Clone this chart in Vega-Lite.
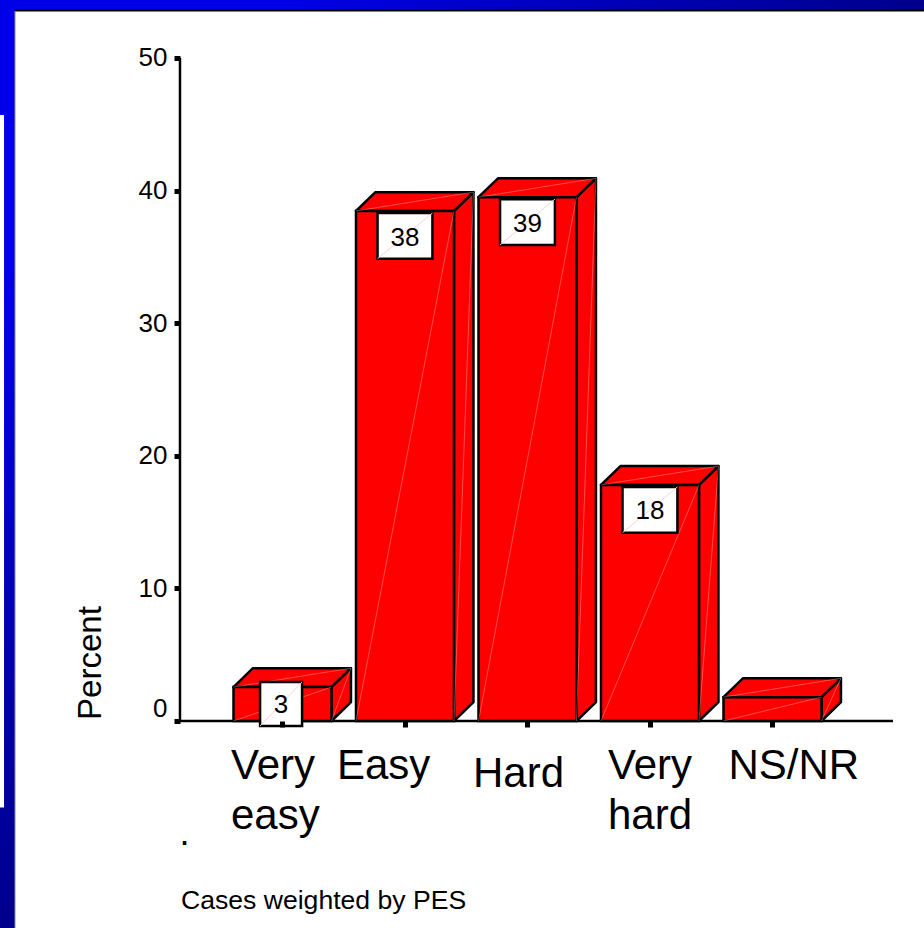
{
"width":924,"height":928,"padding":0,"autosize":"none","background":"white",
"config":{"view":{"stroke":null},"font":"Liberation Sans"},
"datasets":{
"bars":[
{"category":"Very easy","percent":2.56,"label":"3"},
{"category":"Easy","percent":38.46,"label":"38"},
{"category":"Hard","percent":39.5,"label":"39"},
{"category":"Very hard","percent":17.8,"label":"18"},
{"category":"NS/NR","percent":1.8,"label":null}
],
"one":[{}]
},
"resolve":{"scale":{"x":"independent"}},
"layer":[
{"data":{"name":"one"},
 "mark":{"type":"rect","fill":{"gradient":"linear","x1":0,"y1":0,"x2":1,"y2":1,"stops":[{"offset":0,"color":"#0000e8"},{"offset":0.15,"color":"#0000e8"},{"offset":0.5,"color":"#00008c"},{"offset":1,"color":"#00008c"}]}},
 "encoding":{
  "x":{"datum":-2.306,"type":"quantitative","scale":{"domain":[-2.306,5.237],"nice":false,"zero":false},"axis":null},
  "x2":{"datum":5.237},
  "y":{"datum":-15.61,"type":"quantitative","scale":{"domain":[-15.61,54.37],"nice":false,"zero":false},
   "axis":{"title":null,"orient":"left","offset":-180,"domain":false,"grid":false,"values":[0,10,20,30,40,50],"tickSize":6,"tickWidth":5,"tickColor":"black","labelColor":"black","labelFont":"Liberation Sans","labelFontSize":26,"labelPadding":7,"zindex":1,"labelOverlap":false,"labelFlush":false,"labelOffset":{"condition":{"test":"datum.value==0","value":-12},"value":0}}},
  "y2":{"datum":54.37}
 }},
{"data":{"name":"one"},
 "mark":{"type":"rect","fill":"white"},
 "encoding":{
  "x":{"datum":-2.184,"type":"quantitative","scale":{"domain":[-2.306,5.237],"nice":false,"zero":false},"axis":null},
  "x2":{"datum":5.237},
  "y":{"datum":-15.61,"type":"quantitative"},
  "y2":{"datum":53.54}
 }},
{"data":{"name":"one"},
 "mark":{"type":"rect","fill":"white"},
 "encoding":{
  "x":{"datum":-2.306,"type":"quantitative","scale":{"domain":[-2.306,5.237],"nice":false,"zero":false},"axis":null},
  "x2":{"datum":-2.273},
  "y":{"datum":-6.52,"type":"quantitative"},
  "y2":{"datum":45.7}
 }},
{"data":{"name":"one"},
 "mark":{"type":"rule","stroke":"black","strokeWidth":2},
 "encoding":{
  "x":{"datum":-2.184,"type":"quantitative","scale":{"domain":[-2.306,5.237],"nice":false,"zero":false},"axis":null},
  "x2":{"datum":5.237},
  "y":{"datum":53.58,"type":"quantitative"}
 }},
{"data":{"name":"one"},
 "mark":{"type":"rule","stroke":"#777777","strokeWidth":1},
 "encoding":{
  "x":{"datum":-2.184,"type":"quantitative","scale":{"domain":[-2.306,5.237],"nice":false,"zero":false},"axis":null},
  "y":{"datum":-15.61,"type":"quantitative"},
  "y2":{"datum":53.54}
 }},
{"data":{"name":"one"},
 "mark":{"type":"rule","stroke":"black","strokeWidth":2.5},
 "encoding":{
  "x":{"datum":-0.8367,"type":"quantitative","scale":{"domain":[-2.306,5.237],"nice":false,"zero":false},"axis":null},
  "y":{"datum":0,"type":"quantitative"},
  "y2":{"datum":50}
 }},
{"data":{"name":"one"},
 "mark":{"type":"rule","stroke":"black","strokeWidth":2.5},
 "encoding":{
  "x":{"datum":-0.8367,"type":"quantitative","scale":{"domain":[-2.306,5.237],"nice":false,"zero":false},"axis":null},
  "x2":{"datum":4.984},
  "y":{"datum":0,"type":"quantitative"}
 }},
{"data":{"name":"bars"},
 "transform":[
  {"calculate":"indexof(['Very easy','Easy','Hard','Very hard','NS/NR'],datum.category)","as":"i"},
  {"calculate":"[0,1]","as":"k"},{"flatten":["k"]},
  {"calculate":"datum.i+0.4+datum.k*0.159","as":"xs"},
  {"calculate":"datum.percent+datum.k*1.42","as":"ys"},
  {"calculate":"datum.k*1.42","as":"ys2"}
 ],
 "mark":{"type":"area","fill":"#ff0000","stroke":"black","strokeWidth":2.5,"strokeJoin":"round"},
 "encoding":{
  "x":{"field":"xs","type":"quantitative","scale":{"domain":[-2.306,5.237],"nice":false,"zero":false},"axis":null},
  "y":{"field":"ys","type":"quantitative","stack":null},
  "y2":{"field":"ys2"},
  "detail":{"field":"category","type":"nominal"}
 }},
{"data":{"name":"bars"},
 "transform":[
  {"calculate":"indexof(['Very easy','Easy','Hard','Very hard','NS/NR'],datum.category)","as":"i"},
  {"calculate":"[0,1,2,3]","as":"k"},{"flatten":["k"]},
  {"calculate":"datum.i-0.4+[0,0.159,0.8,0.959][datum.k]","as":"xs"},
  {"calculate":"datum.percent+[0,1.42,1.42,1.42][datum.k]","as":"ys"},
  {"calculate":"datum.percent+[0,0,0,1.42][datum.k]","as":"ys2"}
 ],
 "mark":{"type":"area","fill":"#ff0000","stroke":"black","strokeWidth":2.5,"strokeJoin":"round"},
 "encoding":{
  "x":{"field":"xs","type":"quantitative","scale":{"domain":[-2.306,5.237],"nice":false,"zero":false},"axis":null},
  "y":{"field":"ys","type":"quantitative","stack":null},
  "y2":{"field":"ys2"},
  "detail":{"field":"category","type":"nominal"}
 }},
{"data":{"name":"bars"},
 "mark":{"type":"bar","fill":"#ff0000","stroke":"black","strokeWidth":2.5},
 "encoding":{
  "x":{"field":"category","type":"nominal","sort":null,
   "scale":{"domain":["Very easy","Easy","Hard","Very hard","NS/NR"],"range":[221.25,833.75],"paddingInner":0.2,"paddingOuter":0.1},
   "axis":{"title":null,"orient":"bottom","offset":-207,"domain":false,"grid":false,"tickSize":6,"tickWidth":5,"tickColor":"black","labelColor":"black","labelFont":"Liberation Sans","labelFontSize":42,"labelLineHeight":50,"labelAngle":0,"labelAlign":"left","labelBaseline":"top","labelLimit":0,"labelOverlap":false,"labelFlush":false,"zindex":1,
    "labelExpr":"split(datum.label,' ')",
    "labelPadding":{"condition":{"test":"datum.value=='Hard'","value":26},"value":18},
    "labelOffset":{"condition":[{"test":"datum.value=='Very easy'","value":-51.5},{"test":"datum.value=='Easy'","value":-68},{"test":"datum.value=='Hard'","value":-54.5},{"test":"datum.value=='Very hard'","value":-42}],"value":-44}}},
  "y":{"field":"percent","type":"quantitative"}
 }},
{"data":{"name":"bars"},
 "transform":[{"calculate":"indexof(['Very easy','Easy','Hard','Very hard','NS/NR'],datum.category)","as":"i"},
  {"calculate":"[0,1]","as":"k"},{"flatten":["k"]},
  {"calculate":"datum.i-0.4+datum.k*0.8","as":"lx"},
  {"calculate":"datum.k*datum.percent","as":"ly"}],
 "mark":{"type":"line","stroke":"#ffffff","strokeOpacity":0.3,"strokeWidth":1},
 "encoding":{
  "x":{"field":"lx","type":"quantitative","scale":{"domain":[-2.306,5.237],"nice":false,"zero":false},"axis":null},
  "y":{"field":"ly","type":"quantitative"},
  "detail":{"field":"category","type":"nominal"}
 }},
{"data":{"name":"bars"},
 "transform":[{"calculate":"indexof(['Very easy','Easy','Hard','Very hard','NS/NR'],datum.category)","as":"i"},
  {"calculate":"[0,1]","as":"k"},{"flatten":["k"]},
  {"calculate":"datum.i-0.4+datum.k*0.959","as":"lx"},
  {"calculate":"datum.percent+datum.k*1.42","as":"ly"}],
 "mark":{"type":"line","stroke":"#ffffff","strokeOpacity":0.3,"strokeWidth":1},
 "encoding":{
  "x":{"field":"lx","type":"quantitative","scale":{"domain":[-2.306,5.237],"nice":false,"zero":false},"axis":null},
  "y":{"field":"ly","type":"quantitative"},
  "detail":{"field":"category","type":"nominal"}
 }},
{"data":{"name":"bars"},
 "transform":[{"calculate":"indexof(['Very easy','Easy','Hard','Very hard','NS/NR'],datum.category)","as":"i"},
  {"calculate":"[0,1]","as":"k"},{"flatten":["k"]},
  {"calculate":"datum.i+0.4+datum.k*0.159","as":"lx"},
  {"calculate":"datum.k*(datum.percent+1.42)","as":"ly"}],
 "mark":{"type":"line","stroke":"#ffffff","strokeOpacity":0.3,"strokeWidth":1},
 "encoding":{
  "x":{"field":"lx","type":"quantitative","scale":{"domain":[-2.306,5.237],"nice":false,"zero":false},"axis":null},
  "y":{"field":"ly","type":"quantitative"},
  "detail":{"field":"category","type":"nominal"}
 }},
{"data":{"name":"bars"},
 "transform":[{"filter":"datum.label!=null"},
  {"calculate":"indexof(['Very easy','Easy','Hard','Very hard','NS/NR'],datum.category)","as":"i"},
  {"calculate":"datum.percent<5?datum.i-0.183:datum.i-0.224","as":"bx1"},
  {"calculate":"datum.percent<5?datum.i+0.16:datum.i+0.224","as":"bx2"},
  {"calculate":"datum.percent<5?datum.percent+0.38:datum.percent-0.15","as":"by1"},
  {"calculate":"datum.percent<5?-0.38:datum.percent-3.6","as":"by2"}],
 "mark":{"type":"rect","fill":"white","stroke":"black","strokeWidth":2.5},
 "encoding":{
  "x":{"field":"bx1","type":"quantitative","scale":{"domain":[-2.306,5.237],"nice":false,"zero":false},"axis":null},
  "x2":{"field":"bx2"},
  "y":{"field":"by1","type":"quantitative"},
  "y2":{"field":"by2"}
 }},
{"data":{"name":"bars"},
 "transform":[{"filter":"datum.label!=null"},
  {"calculate":"indexof(['Very easy','Easy','Hard','Very hard','NS/NR'],datum.category)","as":"i"},
  {"calculate":"[0,1]","as":"k"},{"flatten":["k"]},
  {"calculate":"datum.percent<5?(datum.i-0.183+datum.k*0.343):(datum.i-0.224+datum.k*0.448)","as":"lx"},
  {"calculate":"datum.percent<5?(-0.38+datum.k*(datum.percent+0.76)):(datum.percent-3.6+datum.k*3.45)","as":"ly"}],
 "mark":{"type":"line","stroke":"#ffd0d0","strokeWidth":1},
 "encoding":{
  "x":{"field":"lx","type":"quantitative","scale":{"domain":[-2.306,5.237],"nice":false,"zero":false},"axis":null},
  "y":{"field":"ly","type":"quantitative"},
  "detail":{"field":"category","type":"nominal"}
 }},
{"data":{"name":"bars"},
 "transform":[{"filter":"datum.label!=null"},
  {"calculate":"indexof(['Very easy','Easy','Hard','Very hard','NS/NR'],datum.category)","as":"i"},
  {"calculate":"datum.percent<5?datum.i-0.012:datum.i","as":"tx"},
  {"calculate":"datum.percent<5?datum.percent/2-0.08:datum.percent-2.0","as":"ty"}],
 "mark":{"type":"text","font":"Liberation Sans","fontSize":26,"fill":"black","align":"center","baseline":"middle"},
 "encoding":{
  "x":{"field":"tx","type":"quantitative","scale":{"domain":[-2.306,5.237],"nice":false,"zero":false},"axis":null},
  "y":{"field":"ty","type":"quantitative"},
  "text":{"field":"label","type":"nominal"}
 }},
{"data":{"name":"one"},
 "mark":{"type":"text","font":"Liberation Sans","fontSize":33,"fill":"black","angle":270,"align":"center","baseline":"middle"},
 "encoding":{
  "x":{"datum":-1.563,"type":"quantitative","scale":{"domain":[-2.306,5.237],"nice":false,"zero":false},"axis":null},
  "y":{"datum":4.37,"type":"quantitative"},
  "text":{"value":"Percent"}
 }},
{"data":{"name":"one"},
 "mark":{"type":"text","font":"Liberation Sans","fontSize":26.6,"fill":"black","align":"left","baseline":"middle"},
 "encoding":{
  "x":{"datum":-0.829,"type":"quantitative","scale":{"domain":[-2.306,5.237],"nice":false,"zero":false},"axis":null},
  "y":{"datum":-13.57,"type":"quantitative"},
  "text":{"value":"Cases weighted by PES"}
 }},
{"data":{"name":"one"},
 "mark":{"type":"text","font":"Liberation Sans","fontSize":36,"fill":"black","align":"left","baseline":"alphabetic"},
 "encoding":{
  "x":{"datum":-0.84,"type":"quantitative","scale":{"domain":[-2.306,5.237],"nice":false,"zero":false},"axis":null},
  "y":{"datum":-9.36,"type":"quantitative"},
  "text":{"value":"."}
 }}
]
}
